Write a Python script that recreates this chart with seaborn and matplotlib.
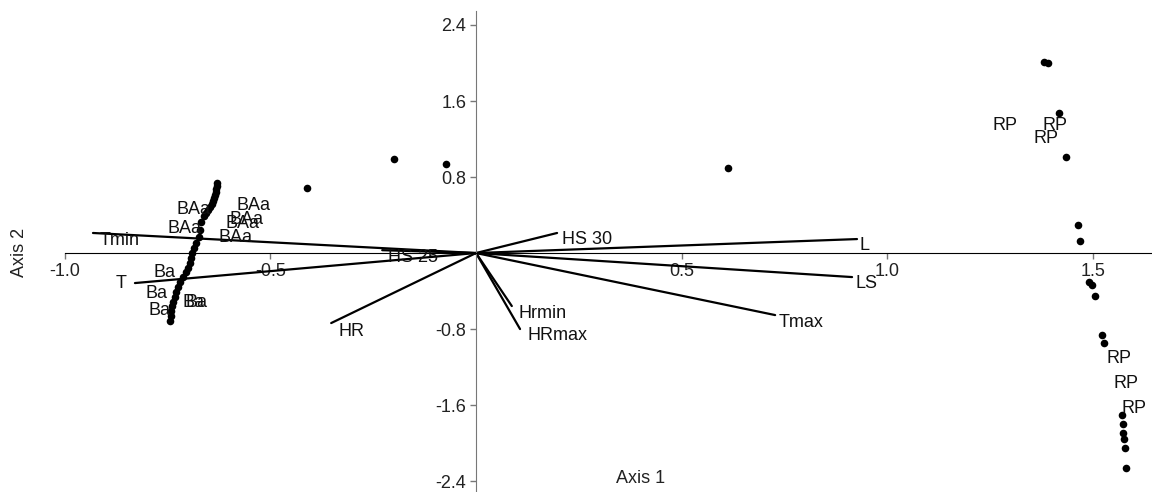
import matplotlib
matplotlib.use("Agg")
import matplotlib.pyplot as plt
import seaborn as sns
import pandas as pd

# sample scores (Axis 1, Axis 2)
pt_x = [-0.629, -0.629, -0.632, -0.632, -0.634, -0.637, -0.639, -0.642, -0.646, -0.651,
        -0.656, -0.661, -0.668, -0.671, -0.673, -0.680, -0.685, -0.690, -0.693, -0.695,
        -0.700, -0.705, -0.712, -0.719, -0.724, -0.729, -0.731, -0.736, -0.739, -0.741,
        -0.741, -0.744,
        -0.411, -0.199, -0.073, 0.613,
        1.380, 1.390, 1.417, 1.434, 1.464, 1.469, 1.490, 1.497, 1.504, 1.521, 1.526,
        1.570, 1.572, 1.572, 1.575, 1.577, 1.580]
pt_y = [0.737, 0.705, 0.674, 0.642, 0.611, 0.579, 0.547, 0.516, 0.484, 0.453,
        0.421, 0.389, 0.326, 0.242, 0.168, 0.105, 0.053, 0.000, -0.053, -0.105,
        -0.158, -0.200, -0.253, -0.305, -0.358, -0.410, -0.463, -0.516, -0.558, -0.611,
        -0.663, -0.716,
        0.684, 0.990, 0.937, 0.895,
        2.010, 2.000, 1.470, 1.010, 0.295, 0.126, -0.305, -0.337, -0.453, -0.863, -0.947,
        -1.705, -1.800, -1.895, -1.958, -2.050, -2.260]

# group labels
grp_names = ["BAa", "BAa", "BAa", "BAa", "BAa", "BAa",
             "Ba", "Ba", "Ba", "Ba", "Ba",
             "RP", "RP", "RP", "RP", "RP", "RP"]
grp_x = [-0.727, -0.749, -0.581, -0.598, -0.608, -0.625,
         -0.785, -0.804, -0.797, -0.714, -0.707,
         1.256, 1.378, 1.354, 1.533, 1.550, 1.570]
grp_y = [0.453, 0.263, 0.495, 0.358, 0.316, 0.168,
         -0.200, -0.421, -0.600, -0.516, -0.516,
         1.337, 1.337, 1.210, -1.105, -1.368, -1.632]

# variable loadings
var_names = ["Tmin", "T", "HS 25", "HR", "HS 30", "Hrmin", "HRmax", "Tmax", "L", "LS"]
var_x = [-0.931, -0.829, -0.228, -0.352, 0.197, 0.087, 0.107, 0.727, 0.926, 0.914]
var_y = [0.211, -0.316, 0.030, -0.737, 0.211, -0.558, -0.800, -0.653, 0.147, -0.253]
lab_x = [-0.914, -0.875, -0.214, -0.335, 0.209, 0.104, 0.124, 0.736, 0.931, 0.923]
lab_y = [0.137, -0.316, -0.042, -0.821, 0.147, -0.632, -0.863, -0.726, 0.084, -0.316]

x_ticks = [-1.0, -0.5, 0.5, 1.0, 1.5]
y_ticks = [2.4, 1.6, 0.8, -0.8, -1.6, -2.4]

sns.set_style("white")
plt.rcParams["font.family"] = ["Liberation Sans", "DejaVu Sans"]

fig = plt.figure(figsize=(11.52, 4.92), dpi=100)
ax = fig.add_axes([0, 0, 1, 1])

df = pd.DataFrame({"Axis 1": pt_x, "Axis 2": pt_y})
sns.scatterplot(data=df, x="Axis 1", y="Axis 2", color="black", s=30,
                edgecolor="black", linewidth=0, ax=ax, zorder=3)

for vx, vy in zip(var_x, var_y):
    ax.plot([0, vx], [0, vy], color="black", lw=1.6, zorder=2)
for name, tx, ty in zip(var_names, lab_x, lab_y):
    ax.text(tx, ty, name, fontsize=13, ha="left", va="center", color="#111111", zorder=4)
for name, tx, ty in zip(grp_names, grp_x, grp_y):
    ax.text(tx, ty, name, fontsize=13, ha="left", va="center", color="#111111", zorder=4)

ax.set_xlim(-1.157, 1.643)
ax.set_ylim(-2.515, 2.663)

ax.spines["left"].set_position(("data", 0))
ax.spines["bottom"].set_position(("data", 0))
ax.spines["top"].set_visible(False)
ax.spines["right"].set_visible(False)
ax.spines["left"].set_color("#777777")
ax.spines["bottom"].set_color("black")
ax.spines["left"].set_bounds(-2.5, 2.55)
ax.spines["bottom"].set_bounds(-1.0, 1.643)

ax.set_xticks(x_ticks)
ax.set_xticklabels([f"{v:.1f}" for v in x_ticks])
ax.set_yticks(y_ticks)
ax.set_yticklabels([f"{v:.1f}" for v in y_ticks])
ax.tick_params(axis="both", direction="out", length=4, width=1, color="#777777",
               labelsize=13, labelcolor="#222222", pad=3)
ax.tick_params(axis="x", bottom=True)
ax.tick_params(axis="y", left=True)

ax.set_xlabel("")
ax.set_ylabel("")
fig.text(0.556, 0.028, "Axis 1", fontsize=13, ha="center", va="center", color="#222222")
fig.text(0.017, 0.486, "Axis 2", fontsize=13, ha="center", va="center",
         rotation=90, color="#222222")

fig.savefig("out.png", dpi=100)
